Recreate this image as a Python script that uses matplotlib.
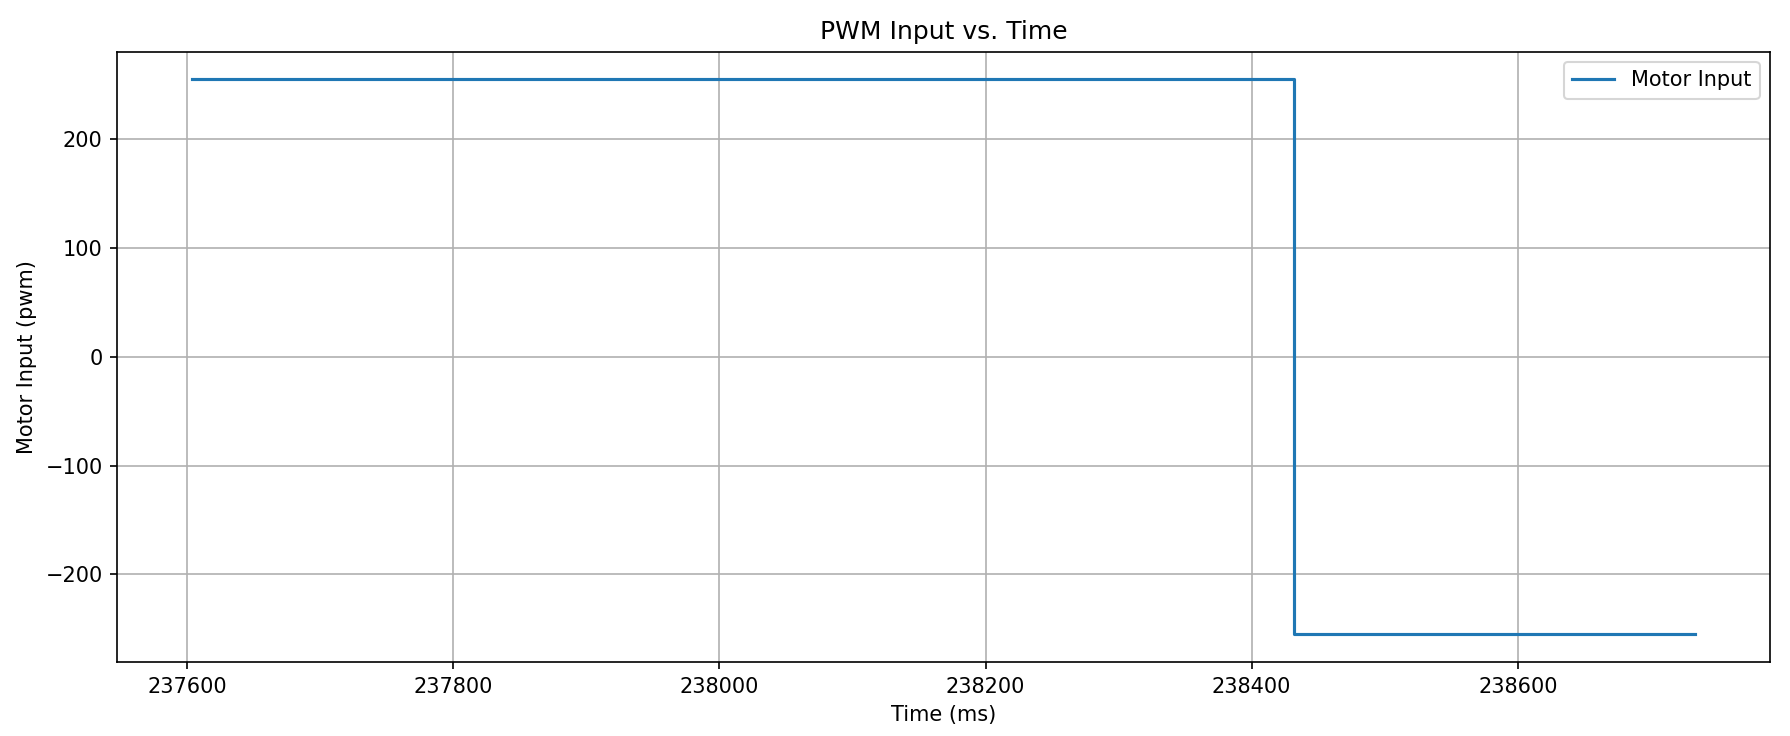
import numpy as np
import matplotlib
matplotlib.use("Agg")
import matplotlib.pyplot as plt

# motor command log (ms, pwm)
time_ms = [237604, 238432, 238733]
motor_input = [255, -255, -255]

fig = plt.figure(figsize=(1790 / 150, 736 / 150), dpi=150)
ax = fig.add_subplot(111)
fig.subplots_adjust(left=0.0655, right=0.9888, top=0.9298, bottom=0.1005)

ax.plot(time_ms, motor_input, drawstyle='steps-post', label='Motor Input')
ax.set_title('PWM Input vs. Time')
ax.set_xlabel('Time (ms)')
ax.set_ylabel('Motor Input (pwm)')
ax.ticklabel_format(axis='x', useOffset=False, style='plain')
ax.grid(True)
ax.legend(loc='upper right')

fig.savefig('out.png', dpi=150)
